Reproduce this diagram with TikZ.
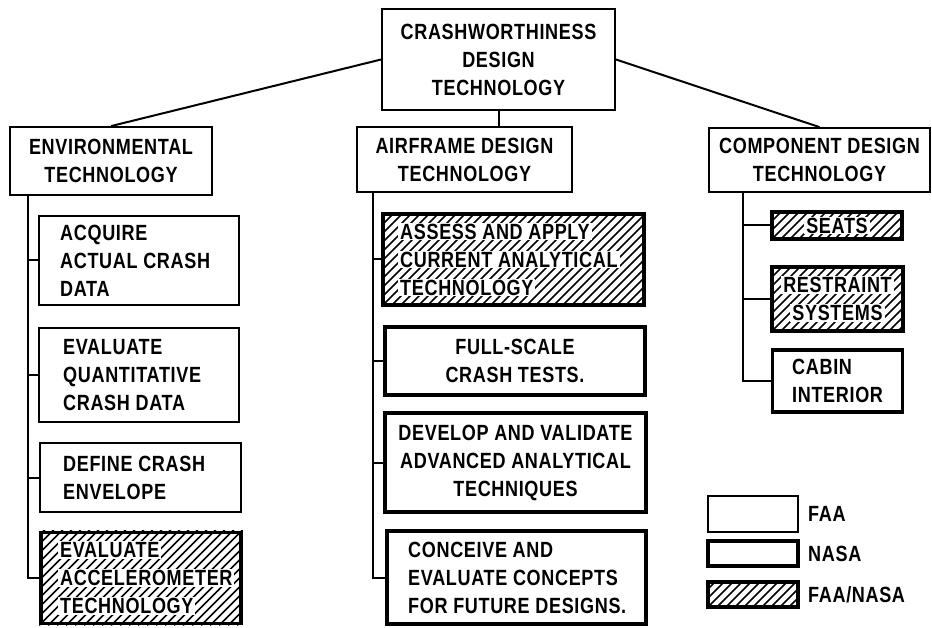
\documentclass[tikz,border=0pt]{standalone}
\usepackage{fontspec}
\setmainfont{Liberation Sans}[FakeStretch=0.82,LetterSpace=3,UprightFont=* Bold]
\newcommand{\hatchfill}[1]{%
  \begin{scope}
    \clip (#1.south west) rectangle (#1.north east);
    \foreach \d in {-171,-162,...,270}
      \draw[hatchln] ([xshift=\d pt]#1.south west) -- ++(180,-180);
  \end{scope}}
\begin{document}
\begin{tikzpicture}[x=1pt,y=-1pt,
  every node/.style={font=\fontsize{22}{28}\selectfont},
  tbox/.style={draw, line width=1.8pt, inner sep=0pt, align=center},
  nbox/.style={draw, line width=3.6pt, inner sep=0pt, align=center},
  hbox/.style={nbox},
  hatchln/.style={line width=1.6pt},
  txt/.style={align=left, inner sep=0pt, anchor=west},
  hl/.style={fill=white, inner xsep=2pt, inner ysep=1pt},
  conn/.style={line width=2pt}]
\useasboundingbox (0,0) rectangle (932,628);
% top level
\node[tbox, minimum width=233, minimum height=101] (top) at (498.5,59.5) {CRASHWORTHINESS\\DESIGN\\TECHNOLOGY};
\node[tbox, minimum width=202, minimum height=68] (env) at (111,161) {ENVIRONMENTAL\\TECHNOLOGY};
\node[tbox, minimum width=215, minimum height=65] (air) at (464.5,159.5) {AIRFRAME DESIGN\\TECHNOLOGY};
\node[tbox, minimum width=221, minimum height=64] (comp) at (819.5,160) {COMPONENT DESIGN\\TECHNOLOGY};
\draw[conn] (top.west) -- (env.north);
\draw[conn] (top.east) -- (comp.north);
\draw[conn] (top.south) -- (top.south |- air.north);
% environmental column
\node[tbox, minimum width=200, minimum height=89] (acq) at (139,260.5) {};
\node[txt] (acqt) at (60,260.5) {ACQUIRE\\ACTUAL CRASH\\DATA};
\node[tbox, minimum width=200, minimum height=94] (evq) at (139,375) {};
\node[txt] (evqt) at (63,375) {EVALUATE\\QUANTITATIVE\\CRASH DATA};
\node[tbox, minimum width=201, minimum height=69] (def) at (140.5,477.5) {};
\node[txt] (deft) at (63,477.5) {DEFINE CRASH\\ENVELOPE};
\node[hbox, minimum width=200, minimum height=91] (acc) at (141,578) {};
\hatchfill{acc}
\node[txt, hl] (acc1) at (58,550) {EVALUATE};
\node[txt, hl] (acc2) at (58,578) {ACCELEROMETER};
\node[txt, hl] (acc3) at (58,606) {TECHNOLOGY};
\coordinate (et) at (28,195);
\draw[conn] (et) |- (acc.west);
\draw[conn] (et |- acq.west) -- (acq.west);
\draw[conn] (et |- evq.west) -- (evq.west);
\draw[conn] (et |- def.west) -- (def.west);
% airframe column
\node[hbox, minimum width=261, minimum height=91] (ass) at (513.5,259.5) {};
\hatchfill{ass}
\node[txt, hl] (ass1) at (398,231.5) {ASSESS AND APPLY};
\node[txt, hl] (ass2) at (398,259.5) {CURRENT ANALYTICAL};
\node[txt, hl] (ass3) at (398,287.5) {TECHNOLOGY};
\node[nbox, minimum width=260, minimum height=68] (full) at (515,361) {FULL-SCALE\\CRASH TESTS.};
\node[nbox, minimum width=261, minimum height=99] (dev) at (515.5,462.5) {DEVELOP AND VALIDATE\\ADVANCED ANALYTICAL\\TECHNIQUES};
\node[nbox, minimum width=259, minimum height=93] (con) at (516.5,577.5) {};
\node[txt] (cont) at (408,577.5) {CONCEIVE AND\\EVALUATE CONCEPTS\\FOR FUTURE DESIGNS.};
\coordinate (at) at (373,192);
\draw[conn] (at) |- (con.west);
\draw[conn] (at |- ass.west) -- (ass.west);
\draw[conn] (at |- full.west) -- (full.west);
\draw[conn] (at |- dev.west) -- (dev.west);
% component column
\node[hbox, minimum width=130, minimum height=27] (seat) at (837,225.5) {};
\hatchfill{seat}
\node[hl] (seatt) at (837,225.5) {SEATS};
\node[hbox, minimum width=131, minimum height=64] (rest) at (837.5,299) {};
\hatchfill{rest}
\node[hl] (rest1) at (837.5,285) {RESTRAINT};
\node[hl] (rest2) at (837.5,313) {SYSTEMS};
\node[nbox, minimum width=130, minimum height=62] (cab) at (837.5,381) {};
\node[txt] (cabt) at (792,381) {CABIN\\INTERIOR};
\coordinate (ct) at (743,192);
\draw[conn] (ct) |- (cab.west);
\draw[conn] (ct |- seat.west) -- (seat.west);
\draw[conn] (ct |- rest.west) -- (rest.west);
% legend
\node[tbox, line width=2.4pt, minimum width=90, minimum height=36] (lfaa) at (753,514) {};
\node[nbox, minimum width=90, minimum height=25] (lnasa) at (753,553.5) {};
\node[hbox, minimum width=90, minimum height=25] (lboth) at (753,594.5) {};
\hatchfill{lboth}
\node[txt] (lfaat) at (808,514) {FAA};
\node[txt] (lnasat) at (808,553.5) {NASA};
\node[txt] (lbotht) at (808,594.5) {FAA/NASA};
\end{tikzpicture}
\end{document}
